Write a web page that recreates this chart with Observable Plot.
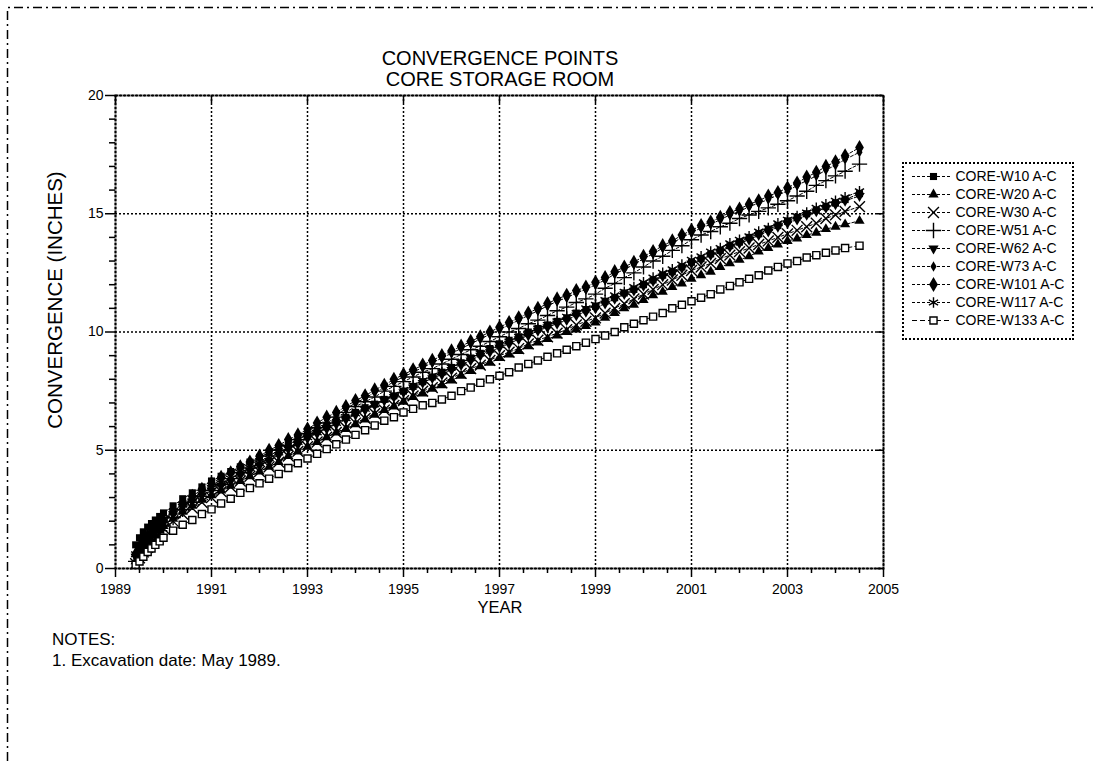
<!DOCTYPE html>
<html><head><meta charset="utf-8">
<script src="https://cdn.jsdelivr.net/npm/d3@7"></script>
<script src="https://cdn.jsdelivr.net/npm/@observablehq/plot@0.6"></script>
<style>
body{margin:0;background:#fff;font-family:"Liberation Sans",Arial,sans-serif;color:#000;}
#page{position:relative;width:1095px;height:761px;overflow:hidden;background:#fff;}
.abs{position:absolute;}
#legend svg{overflow:visible;}
</style></head><body>
<div id="page">
 <svg class="abs" style="left:0;top:0" width="1095" height="761"><path d="M7.5,761V7.5H1095" fill="none" stroke="#000" stroke-width="1.5" stroke-dasharray="9,4,2,4"/></svg>
 <div id="chart" class="abs" style="left:0;top:0"></div>
 <div class="abs" style="left:300px;width:400px;top:48px;text-align:center;font-size:20px;line-height:21px;">CONVERGENCE POINTS<br>CORE STORAGE ROOM</div>
 <div class="abs" style="width:300px;top:288px;text-align:center;font-size:20.5px;line-height:24px;transform:rotate(-90deg);transform-origin:150px 12px;left:-95px;">CONVERGENCE (INCHES)</div>
 <div class="abs" style="left:400px;width:200px;top:597px;text-align:center;font-size:16.5px;line-height:20px;">YEAR</div>
 <div id="legend" class="abs" style="left:902px;top:162px;width:168px;height:174px;border:2px dotted #000;"></div>
 <div class="abs" style="left:52px;top:629px;font-size:17px;line-height:21px;">NOTES:<br>1. Excavation date: May 1989.</div>
</div>
<script>
// ---- data ----
const seriesNames = ["CORE-W10 A-C","CORE-W20 A-C","CORE-W30 A-C","CORE-W51 A-C","CORE-W62 A-C","CORE-W73 A-C","CORE-W101 A-C","CORE-W117 A-C","CORE-W133 A-C"];
const xTicks = [1989,1991,1993,1995,1997,1999,2001,2003,2005];
const xMinor = [1989.5,1990,1990.5,1991.5,1992,1992.5,1993.5,1994,1994.5,1995.5,1996,1996.5,1997.5,1998,1998.5,1999.5,2000,2000.5,2001.5,2002,2002.5,2003.5,2004,2004.5];
const yTicks = [0,5,10,15,20];
const yMinor = [1,2,3,4,6,7,8,9,11,12,13,14,16,17,18,19];
const dates = [1989.42,1989.5,1989.58,1989.67,1989.75,1989.83,1989.92,
 1990.0,1990.2,1990.4,1990.6,1990.8, 1991.0,1991.2,1991.4,1991.6,1991.8,
 1992.0,1992.2,1992.4,1992.6,1992.8, 1993.0,1993.2,1993.4,1993.6,1993.8,
 1994.0,1994.2,1994.4,1994.6,1994.8, 1995.0,1995.2,1995.4,1995.6,1995.8,
 1996.0,1996.2,1996.4,1996.6,1996.8, 1997.0,1997.2,1997.4,1997.6,1997.8,
 1998.0,1998.2,1998.4,1998.6,1998.8, 1999.0,1999.2,1999.4,1999.6,1999.8,
 2000.0,2000.2,2000.4,2000.6,2000.8, 2001.0,2001.2,2001.4,2001.6,2001.8,
 2002.0,2002.2,2002.4,2002.6,2002.8, 2003.0,2003.2,2003.4,2003.6,2003.8,
 2004.0,2004.2,2004.5];
const w10 = [1.0,1.3,1.55,1.75,1.9,2.05,2.2,
 2.35,2.65,2.95,3.2,3.45, 3.7,3.9,4.1,4.3,4.5, 4.7,4.9,5.1,5.25,5.45, 5.65,5.85,6.05,6.25,6.4,
 6.6,6.8,6.95,7.15,7.3, 7.5,7.7,7.9,8.1,8.3, 8.5,8.7,8.9,9.1,9.3, 9.5,9.65,9.8,10.0,10.15,
 10.3,10.45,10.6,10.8,10.95, 11.1,11.3,11.45,11.65,11.8, 12.0,12.2,12.4,12.55,12.75,
 12.95,13.1,13.3,13.45,13.65, 13.8,14.0,14.15,14.35,14.5, 14.7,14.85,15.0,15.15,15.3, 15.45,15.6,15.85];
const w20 = [0.3,0.55,0.8,1.0,1.2,1.4,1.6,
 1.8,2.1,2.4,2.65,2.9, 3.1,3.3,3.5,3.7,3.9, 4.1,4.3,4.5,4.75,4.95, 5.15,5.35,5.55,5.75,5.9,
 6.1,6.3,6.5,6.7,6.85, 7.05,7.25,7.4,7.6,7.75, 7.95,8.15,8.35,8.55,8.7, 8.9,9.05,9.2,9.4,9.55,
 9.7,9.85,10.0,10.1,10.25, 10.4,10.6,10.8,11.0,11.15, 11.35,11.55,11.7,11.9,12.05,
 12.25,12.4,12.55,12.75,12.9, 13.05,13.2,13.4,13.55,13.7, 13.85,13.95,14.1,14.2,14.35, 14.45,14.55,14.7];
const w30 = [0.2,0.45,0.7,0.9,1.1,1.3,1.5,
 1.7,2.0,2.3,2.55,2.8, 3.0,3.25,3.45,3.7,3.9, 4.1,4.3,4.5,4.75,4.95, 5.15,5.35,5.55,5.75,5.95,
 6.15,6.35,6.55,6.7,6.9, 7.1,7.3,7.5,7.65,7.85, 8.05,8.25,8.45,8.6,8.8, 9.0,9.15,9.3,9.5,9.65,
 9.8,9.95,10.1,10.3,10.45, 10.6,10.8,11.0,11.2,11.4, 11.6,11.8,12.0,12.2,12.4,
 12.6,12.75,12.9,13.1,13.25, 13.4,13.55,13.7,13.85,14.0, 14.15,14.3,14.45,14.6,14.8, 14.95,15.1,15.3];
const w51 = [0.3,0.55,0.8,1.0,1.2,1.4,1.6,
 1.8,2.15,2.5,2.8,3.05, 3.3,3.55,3.8,4.05,4.25, 4.5,4.75,5.0,5.2,5.45, 5.7,5.95,6.15,6.4,6.6,
 6.85,7.05,7.25,7.5,7.7, 7.9,8.1,8.3,8.45,8.65, 8.85,9.05,9.25,9.4,9.6, 9.8,10.0,10.15,10.35,10.5,
 10.7,10.9,11.05,11.25,11.4, 11.6,11.85,12.05,12.3,12.5, 12.75,13.0,13.2,13.45,13.65,
 13.9,14.1,14.25,14.45,14.6, 14.8,14.95,15.1,15.25,15.4, 15.55,15.75,15.95,16.2,16.4, 16.6,16.8,17.1];
const w62 = [0.5,0.8,1.05,1.25,1.45,1.6,1.8,
 2.0,2.3,2.6,2.85,3.1, 3.3,3.5,3.7,3.95,4.15, 4.35,4.55,4.8,5.05,5.25, 5.5,5.7,5.9,6.1,6.3,
 6.5,6.7,6.9,7.1,7.25, 7.45,7.65,7.85,8.05,8.2, 8.4,8.6,8.8,9.0,9.15, 9.35,9.5,9.7,9.85,10.05,
 10.2,10.35,10.5,10.7,10.85, 11.0,11.2,11.4,11.6,11.75, 11.95,12.15,12.35,12.5,12.7,
 12.9,13.05,13.25,13.4,13.6, 13.75,13.9,14.1,14.25,14.45, 14.6,14.75,14.95,15.1,15.25, 15.4,15.55,15.75];
const w73 = [0.5,0.8,1.05,1.25,1.45,1.6,1.8,
 1.95,2.3,2.65,2.95,3.25, 3.5,3.75,4.0,4.25,4.45, 4.7,4.9,5.15,5.35,5.6, 5.8,6.05,6.3,6.5,6.75,
 7.0,7.2,7.45,7.65,7.9, 8.1,8.3,8.5,8.7,8.9, 9.1,9.3,9.5,9.7,9.9, 10.1,10.3,10.5,10.7,10.9,
 11.1,11.3,11.45,11.65,11.8, 12.0,12.2,12.45,12.65,12.85, 13.1,13.3,13.55,13.75,14.0,
 14.2,14.4,14.55,14.75,14.95, 15.1,15.3,15.45,15.6,15.8, 15.95,16.2,16.4,16.6,16.85, 17.05,17.3,17.6];
const w101 = [0.6,0.9,1.15,1.35,1.5,1.7,1.85,
 2.0,2.4,2.75,3.05,3.35, 3.6,3.85,4.05,4.3,4.5, 4.75,5.0,5.2,5.45,5.65, 5.9,6.15,6.4,6.6,6.85,
 7.1,7.3,7.55,7.75,8.0, 8.2,8.4,8.6,8.8,9.0, 9.2,9.4,9.6,9.8,10.0, 10.2,10.4,10.6,10.8,11.0,
 11.2,11.4,11.55,11.75,11.9, 12.1,12.3,12.55,12.75,12.95, 13.2,13.4,13.65,13.85,14.1,
 14.3,14.5,14.65,14.85,15.05, 15.2,15.4,15.55,15.75,15.9, 16.1,16.3,16.55,16.75,17.0, 17.2,17.45,17.8];
const w117 = [0.6,0.9,1.15,1.35,1.55,1.7,1.9,
 2.1,2.4,2.7,2.95,3.2, 3.4,3.6,3.8,4.05,4.25, 4.45,4.65,4.9,5.1,5.35, 5.55,5.75,5.95,6.15,6.35,
 6.55,6.75,6.95,7.15,7.35, 7.55,7.75,7.95,8.15,8.3, 8.5,8.7,8.9,9.1,9.25, 9.45,9.6,9.8,9.95,10.15,
 10.3,10.45,10.65,10.8,11.0, 11.15,11.35,11.55,11.7,11.9, 12.1,12.3,12.5,12.65,12.85,
 13.05,13.2,13.4,13.55,13.75, 13.9,14.05,14.25,14.4,14.6, 14.75,14.9,15.05,15.25,15.4, 15.55,15.7,15.95];
const w133 = [0.15,0.3,0.5,0.7,0.85,1.0,1.15,
 1.3,1.6,1.85,2.05,2.3, 2.5,2.75,2.95,3.2,3.4, 3.6,3.8,4.0,4.25,4.45, 4.65,4.85,5.05,5.25,5.45,
 5.65,5.85,6.05,6.25,6.4, 6.6,6.75,6.9,7.0,7.15, 7.3,7.5,7.65,7.85,8.0, 8.15,8.3,8.5,8.65,8.8,
 8.95,9.1,9.25,9.4,9.55, 9.7,9.85,10.0,10.2,10.35, 10.5,10.65,10.8,11.0,11.15,
 11.3,11.45,11.6,11.8,11.95, 12.1,12.25,12.4,12.6,12.75, 12.9,13.0,13.15,13.25,13.35, 13.45,13.55,13.65];
const seriesValues = [w10,w20,w30,w51,w62,w73,w101,w117,w133];

// ---- styles ----
const triangleDown = {draw(ctx, size){const y=-Math.sqrt(size/(Math.sqrt(3)*3)); ctx.moveTo(0,-y*2); ctx.lineTo(-Math.sqrt(3)*y,y); ctx.lineTo(Math.sqrt(3)*y,y); ctx.closePath();}};
const styles = [
 {symbol:"square", r:4.0, fill:"black", stroke:"none"},
 {symbol:"triangle", r:3.8, fill:"black", stroke:"none"},
 {symbol:"times", r:5.0, fill:"none", stroke:"black", strokeWidth:1.4},
 {symbol:"plus", r:5.0, fill:"none", stroke:"black", strokeWidth:1.4},
 {symbol:triangleDown, r:3.8, fill:"black", stroke:"none"},
 {symbol:"diamond", r:3.2, fill:"black", stroke:"none"},
 {symbol:"diamond", r:4.6, fill:"black", stroke:"none"},
 {symbol:"asterisk", r:5.0, fill:"none", stroke:"black", strokeWidth:1.4},
 {symbol:"square", r:4.0, fill:"white", stroke:"black", strokeWidth:1.4}
];
const dashes = ["3,2","3,2","3,2","3,2","3,2","3,2","3,2","3,2","5,3"];

const rows = seriesNames.flatMap((name,i)=>dates.map((d,j)=>({name, date:d, value:seriesValues[i][j]})));

const seriesMarks = seriesNames.flatMap((name,i)=>{
  const data = rows.filter(r=>r.name===name);
  return [
    Plot.line(data,{x:"date",y:"value",stroke:"black",strokeWidth:1,strokeDasharray:dashes[i]}),
    Plot.dot(data,{x:"date",y:"value",...styles[i]})
  ];
});

const chart = Plot.plot({
  width: 900, height: 620,
  marginLeft: 115, marginRight: 17, marginTop: 95, marginBottom: 52,
  x: {domain:[1989,2005]},
  y: {domain:[0,20]},
  style: {fontFamily:"'Liberation Sans', Arial, sans-serif", fontSize:"14px", color:"black", background:"transparent", overflow:"visible"},
  marks: [
    Plot.gridX(xTicks, {stroke:"black", strokeOpacity:1, strokeWidth:1.5, strokeDasharray:"2,2"}),
    Plot.gridY(yTicks, {stroke:"black", strokeOpacity:1, strokeWidth:1.5, strokeDasharray:"2,2"}),
    Plot.axisX(xMinor, {tickSize:5, tickFormat:()=>"", label:null, strokeWidth:1.5}),
    Plot.axisX(xTicks, {tickSize:9, tickPadding:7, tickFormat:d=>String(d), label:null, strokeWidth:1.5, fontSize:14}),
    Plot.axisY(yMinor, {tickSize:6, tickFormat:()=>"", label:null, strokeWidth:1.5}),
    Plot.axisY(yTicks, {tickSize:10, tickPadding:2, tickFormat:d=>String(d), label:null, strokeWidth:1.5, fontSize:14}),
    Plot.axisX(xTicks, {anchor:"top", tickSize:-7, tickFormat:()=>"", label:null, strokeWidth:1.5}),
    Plot.axisY(yTicks, {anchor:"right", tickSize:-7, tickFormat:()=>"", label:null, strokeWidth:1.5}),
    ...seriesMarks,
    Plot.frame({stroke:"black", strokeWidth:2, strokeDasharray:"3,1"})
  ]
});
document.getElementById("chart").appendChild(chart);

const legend = Plot.plot({
  width: 168, height: 174, margin: 0,
  x: {domain:[0,168], range:[0,168], axis:null},
  y: {type:"point", domain:seriesNames, range:[9,159], padding:0, axis:null},
  style: {fontFamily:"'Liberation Sans', Arial, sans-serif", fontSize:"14px", color:"black", background:"transparent", overflow:"visible"},
  marks: [
    ...seriesNames.flatMap((name,i)=>[
      Plot.ruleY([name], {y:d=>d, x1:()=>8, x2:()=>46, stroke:"black", strokeWidth:1, strokeDasharray:dashes[i]}),
      Plot.dot([name], {x:()=>29, y:d=>d, ...styles[i]})
    ]),
    Plot.text(seriesNames, {x:()=>51, y:d=>d, text:d=>d, textAnchor:"start", fontSize:14, fill:"black"})
  ]
});
document.getElementById("legend").appendChild(legend);
</script>
</body></html>
